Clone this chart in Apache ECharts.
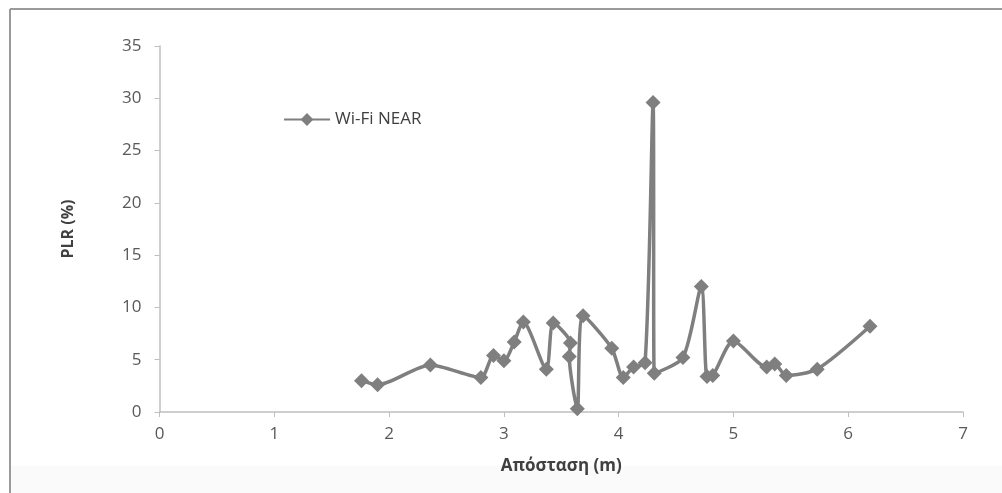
<!DOCTYPE html>
<html>
<head>
<meta charset="utf-8">
<script src="https://cdn.jsdelivr.net/npm/echarts@6/dist/echarts.min.js"></script>
<style>
  html, body { margin: 0; padding: 0; background: #ffffff; }
  #chart { width: 1002px; height: 493px; }
</style>
</head>
<body>
<div id="chart"></div>
<script>
// Distance (m) and packet loss rate (%) for the Wi-Fi NEAR measurement run
const seriesName = 'Wi-Fi NEAR';
const distance = [1.76, 1.90, 2.36, 2.80, 2.91, 3.00, 3.09, 3.17, 3.37, 3.43,
                  3.58, 3.57, 3.64, 3.69, 3.94, 4.04, 4.13, 4.23, 4.30, 4.31,
                  4.56, 4.72, 4.77, 4.82, 5.00, 5.29, 5.36, 5.46, 5.73, 6.19];
const plr = [3.0, 2.6, 4.5, 3.3, 5.4, 4.9, 6.7, 8.6, 4.1, 8.5,
             6.6, 5.3, 0.3, 9.2, 6.1, 3.3, 4.3, 4.7, 29.6, 3.7,
             5.2, 12.0, 3.4, 3.5, 6.8, 4.3, 4.6, 3.5, 4.1, 8.2];
const xTicks = { min: 0, max: 7, step: 1 };
const yTicks = { min: 0, max: 35, step: 5 };

const points = distance.map((d, i) => [d, plr[i]]);

const chart = echarts.init(document.getElementById('chart'), null, { renderer: 'canvas' });
const axisGray = '#bfbfbf';
const labelGray = '#595959';
const font = '"Open Sans", "DejaVu Sans", sans-serif';

chart.setOption({
  backgroundColor: '#ffffff',
  animation: false,
  graphic: [
    { type: 'rect', silent: true, z: -10,
      shape: { x: 11, y: 466, width: 991, height: 27 },
      style: { fill: '#fafafa' } },
    { type: 'line', silent: true,
      shape: { x1: 10, y1: 9, x2: 1002, y2: 9 },
      style: { stroke: '#9a9a9a', lineWidth: 2 } },
    { type: 'line', silent: true,
      shape: { x1: 10, y1: 9, x2: 10, y2: 493 },
      style: { stroke: '#9a9a9a', lineWidth: 2 } }
  ],
  grid: { left: 159.5, right: 39, top: 46, bottom: 81, containLabel: false },
  legend: {
    left: 283, top: 111, padding: 0,
    itemWidth: 46, itemHeight: 16, itemGap: 5,
    textStyle: { fontFamily: font, fontSize: 17, color: '#404040' },
    data: [seriesName]
  },
  xAxis: {
    type: 'value',
    min: xTicks.min, max: xTicks.max, interval: xTicks.step,
    name: 'Απόσταση (m)',
    nameLocation: 'middle', nameGap: 46,
    nameTextStyle: { fontFamily: font, fontSize: 17, fontWeight: 'bold', color: '#404040' },
    axisLine: { show: true, onZero: false, lineStyle: { color: axisGray, width: 1.5 } },
    axisTick: { show: true, length: 5, inside: false, lineStyle: { color: axisGray } },
    axisLabel: { margin: 14, fontFamily: font, fontSize: 17, color: labelGray },
    splitLine: { show: false }
  },
  yAxis: {
    type: 'value',
    min: yTicks.min, max: yTicks.max, interval: yTicks.step,
    name: 'PLR (%)',
    nameLocation: 'middle', nameGap: 83, nameRotate: 90,
    nameTextStyle: { fontFamily: font, fontSize: 16, fontWeight: 'bold', color: '#404040' },
    axisLine: { show: true, onZero: false, lineStyle: { color: axisGray, width: 1.5 } },
    axisTick: { show: true, length: 5, lineStyle: { color: axisGray } },
    axisLabel: { margin: 18, fontFamily: font, fontSize: 17, color: labelGray },
    splitLine: { show: false }
  },
  series: [{
    name: seriesName,
    type: 'line',
    data: points,
    smooth: 0.25,
    symbol: 'diamond',
    symbolSize: 15,
    showAllSymbol: true,
    lineStyle: { color: '#7f7f7f', width: 3.5 },
    itemStyle: { color: '#7f7f7f', borderWidth: 0 },
    emphasis: { disabled: true }
  }]
});
</script>
</body>
</html>
